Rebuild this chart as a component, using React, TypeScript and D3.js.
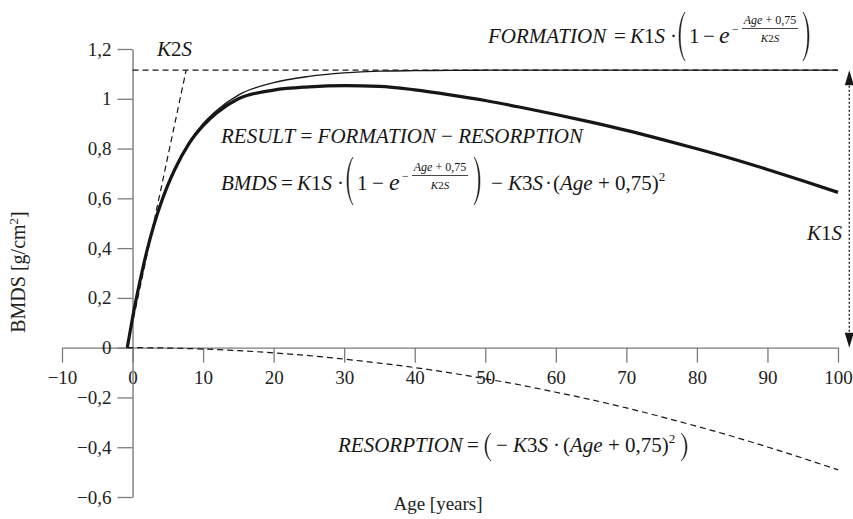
import React, { useEffect, useRef } from "react";
import * as d3 from "d3";

// values
const ages = [-0.75, 0, 1, 2, 3, 4, 5, 6, 8, 10, 12, 15, 20, 25, 30, 35, 40, 45, 50, 55, 60, 65, 70, 75, 80, 85, 90, 95, 100];
const formation = [0, 0.12, 0.26, 0.385, 0.49, 0.58, 0.655, 0.72, 0.825, 0.9, 0.955, 1.015, 1.065, 1.09, 1.104, 1.111, 1.113, 1.114, 1.115, 1.115, 1.115, 1.115, 1.115, 1.115, 1.115, 1.115, 1.115, 1.115, 1.115];
const result = [0, 0.12, 0.26, 0.385, 0.49, 0.578, 0.653, 0.717, 0.82, 0.892, 0.945, 1.0, 1.035, 1.048, 1.053, 1.05, 1.036, 1.016, 0.993, 0.966, 0.937, 0.906, 0.873, 0.837, 0.799, 0.759, 0.716, 0.671, 0.624];
const resorption = [0, 0, -0.0002, -0.0004, -0.0007, -0.001, -0.0016, -0.0022, -0.0037, -0.0056, -0.0079, -0.012, -0.021, -0.032, -0.046, -0.062, -0.08, -0.101, -0.125, -0.15, -0.179, -0.209, -0.242, -0.278, -0.316, -0.356, -0.399, -0.444, -0.491];

const k1s = 1.115;
const asymptoteAges = [0, 100];
const tangentAges = [-0.75, 7.6];
const tangentValues = [0, 1.115];
const arrowAge = 101.6;

const xTicks = [-10, 0, 10, 20, 30, 40, 50, 60, 70, 80, 90, 100];
const yTicks = [-0.6, -0.4, -0.2, 0, 0.2, 0.4, 0.6, 0.8, 1, 1.2];

const W = 853, H = 519;
const serif = "Liberation Serif, DejaVu Serif, serif";
const ink = "#161616";
const gray = "#7b7b7b";

const x = d3.scaleLinear().domain([-10, 100]).range([62, 838]);
const y = d3.scaleLinear().domain([-0.6, 1.2]).range([497, 49]);

const fmt = (d: number) => {
  const a = Math.abs(d);
  const s = Number.isInteger(a) ? String(a) : a.toFixed(1).replace(".", ",");
  return d < 0 ? "\u2212" + s : s;
};

const line = d3.line<[number, number]>()
  .x((d) => x(d[0]))
  .y((d) => y(d[1]))
  .curve(d3.curveMonotoneX);

const straight = d3.line<[number, number]>()
  .x((d) => x(d[0]))
  .y((d) => y(d[1]));

const zip = (a: number[], b: number[]) => a.map((v, i) => [v, b[i]] as [number, number]);

function Paren({ x0, top, bottom, open }: { x0: number; top: number; bottom: number; open?: boolean }) {
  const w = 7, h = bottom - top, t = 1.7;
  const d = open
    ? `M${x0 + w},${top} C${x0 - 1},${top + h * 0.22} ${x0 - 1},${bottom - h * 0.22} ${x0 + w},${bottom}
       C${x0 - 1 + t},${bottom - h * 0.22} ${x0 - 1 + t},${top + h * 0.22} ${x0 + w},${top}Z`
    : `M${x0},${top} C${x0 + w + 1},${top + h * 0.22} ${x0 + w + 1},${bottom - h * 0.22} ${x0},${bottom}
       C${x0 + w + 1 - t},${bottom - h * 0.22} ${x0 + w + 1 - t},${top + h * 0.22} ${x0},${top}Z`;
  return <path d={d} fill={ink} stroke={ink} strokeWidth={0.5} />;
}

const KS = (n: number) => (
  <>
    <tspan fontStyle="italic">K</tspan>{n}<tspan fontStyle="italic">S</tspan>
  </>
);

function Exp({ xl, base }: { xl: number; base: number }) {
  const cx = xl + 38;
  return (
    <g style={{ fontFamily: serif }} fill={ink}>
      <text x={xl} y={base - 10.5} fontSize={12}>{"\u2212"}</text>
      <line x1={xl + 10} x2={xl + 66} y1={base - 14.5} y2={base - 14.5} stroke={ink} strokeWidth={0.8} />
      <text x={cx} y={base - 19} fontSize={12} textAnchor="middle">
        <tspan fontStyle="italic">Age</tspan> + 0,75
      </text>
      <text x={cx} y={base - 1} fontSize={11} textAnchor="middle">{KS(2)}</text>
    </g>
  );
}

export default function App() {
  const xAxisRef = useRef<SVGGElement>(null);
  const yAxisRef = useRef<SVGGElement>(null);

  useEffect(() => {
    const gx = d3.select(xAxisRef.current);
    gx.selectAll("*").remove();
    gx.attr("transform", `translate(0,${y(0)})`)
      .call(d3.axisBottom(x).tickValues(xTicks).tickSize(15).tickSizeOuter(0).tickPadding(8).tickFormat((d) => fmt(+d)));

    const gy = d3.select(yAxisRef.current);
    gy.selectAll("*").remove();
    gy.attr("transform", `translate(${x(0)},0)`)
      .call(d3.axisLeft(y).tickValues(yTicks).tickSize(15).tickSizeOuter(0).tickPadding(6).tickFormat((d) => fmt(+d)));

    [gx, gy].forEach((g) => {
      g.attr("font-family", null).attr("font-size", null).style("font-family", serif).style("font-size", "19px");
      g.selectAll(".domain").attr("stroke", gray).attr("stroke-width", 1.4);
      g.selectAll(".tick line").attr("stroke", gray).attr("stroke-width", 1.3);
      g.selectAll(".tick text").attr("fill", "#222");
    });
  }, []);

  const t = { style: { fontFamily: serif }, fontSize: 21, fill: ink };

  return (
    <svg width={W} height={H} style={{ position: "absolute", left: 0, top: 0, background: "#fff", fontFamily: serif }}>
      <g ref={xAxisRef} />
      <g ref={yAxisRef} />

      {/* dashed helper lines */}
      <path d={line(zip(asymptoteAges, [k1s, k1s])) || ""} fill="none" stroke={ink} strokeWidth={1.2} strokeDasharray="6,4" />
      <path d={straight(zip(tangentAges, tangentValues)) || ""} fill="none" stroke={ink} strokeWidth={1.2} strokeDasharray="6,4" />
      <path d={line(zip(ages, resorption)) || ""} fill="none" stroke={ink} strokeWidth={1.2} strokeDasharray="6,4" />

      {/* curves */}
      <path d={line(zip(ages, formation)) || ""} fill="none" stroke={ink} strokeWidth={1.4} />
      <path d={line(zip(ages, result)) || ""} fill="none" stroke={ink} strokeWidth={3.2} />

      {/* K1S double arrow */}
      <line x1={x(arrowAge)} x2={x(arrowAge)} y1={y(0) - 12} y2={y(k1s) + 12} stroke={ink} strokeWidth={1.3} strokeDasharray="2,2" />
      <path d={`M${x(arrowAge)},${y(k1s)} l-4.5,15 l9,0 Z`} fill={ink} />
      <path d={`M${x(arrowAge)},${y(0)} l-4.5,-15 l9,0 Z`} fill={ink} />

      {/* labels */}
      <text {...t} x={157} y={56}>{KS(2)}</text>
      <text {...t} x={807} y={240}>{KS(1)}</text>

      {/* FORMATION formula */}
      <text {...t} x={488} y={43} fontStyle="italic">FORMATION</text>
      <text {...t} x={614} y={43}>=</text>
      <text {...t} x={630} y={43}>{KS(1)}</text>
      <text {...t} x={670} y={43}>·</text>
      <Paren x0={678} top={12} bottom={61} open />
      <text {...t} x={689} y={43}>1</text>
      <text {...t} x={703} y={43}>{"\u2212"}</text>
      <text {...t} x={719} y={43} fontSize={24} fontStyle="italic">e</text>
      <Exp xl={732} base={43} />
      <Paren x0={803} top={12} bottom={61} />

      {/* RESULT line */}
      <text {...t} x={221} y={143}>
        <tspan fontStyle="italic">RESULT</tspan> = <tspan fontStyle="italic">FORMATION</tspan> {"\u2212"} <tspan fontStyle="italic">RESORPTION</tspan>
      </text>

      {/* BMDS formula */}
      <text {...t} x={221} y={190} fontStyle="italic">BMDS</text>
      <text {...t} x={281} y={190}>=</text>
      <text {...t} x={297} y={190}>{KS(1)}</text>
      <text {...t} x={337} y={190}>·</text>
      <Paren x0={346} top={157} bottom={205} open />
      <text {...t} x={357} y={190}>1</text>
      <text {...t} x={372} y={190}>{"\u2212"}</text>
      <text {...t} x={389} y={190} fontSize={24} fontStyle="italic">e</text>
      <Exp xl={402} base={190} />
      <Paren x0={474} top={157} bottom={205} />
      <text {...t} x={491} y={190}>{"\u2212"}</text>
      <text {...t} x={508} y={190}>{KS(3)}</text>
      <text {...t} x={545} y={190}>·</text>
      <text {...t} x={553} y={190}>
        (<tspan fontStyle="italic">Age</tspan> + 0,75)<tspan dy={-9} fontSize={13}>2</tspan>
      </text>

      {/* RESORPTION formula */}
      <text {...t} x={338} y={452} fontStyle="italic">RESORPTION</text>
      <text {...t} x={467} y={452}>=</text>
      <Paren x0={484} top={433} bottom={461} open />
      <text {...t} x={496} y={452}>{"\u2212"}</text>
      <text {...t} x={513} y={452}>{KS(3)}</text>
      <text {...t} x={553} y={452}>·</text>
      <text {...t} x={563} y={452}>
        (<tspan fontStyle="italic">Age</tspan> + 0,75)<tspan dy={-9} fontSize={13}>2</tspan>
      </text>
      <Paren x0={681} top={433} bottom={461} />

      {/* axis titles */}
      <text style={{ fontFamily: serif }} fontSize={20} fill="#222" textAnchor="middle" transform="translate(25,272) rotate(-90)">
        BMDS [g/cm<tspan dy={-7} fontSize={13}>2</tspan><tspan dy={7}>]</tspan>
      </text>
      <text style={{ fontFamily: serif }} fontSize={19} fill="#222" textAnchor="middle" x={438} y={510}>Age [years]</text>
    </svg>
  );
}
